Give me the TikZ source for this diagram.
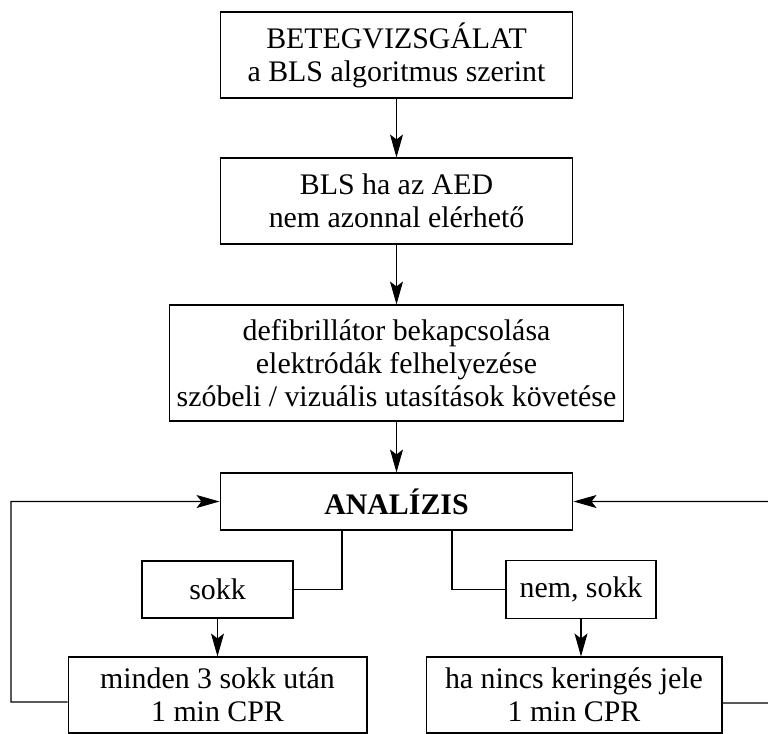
\documentclass[tikz,border=0pt]{standalone}
\usepackage{fontspec}
\setmainfont{Liberation Serif}
\usetikzlibrary{arrows.meta}
\tikzset{
  box/.style={draw, line width=0.6pt, align=center, inner sep=0pt,
    font=\fontsize{17}{18.8}\selectfont},
  arr/.style={line width=0.6pt, -{Stealth[length=4.6mm,width=2.6mm,inset=1mm]}},
  ln/.style={line width=0.6pt}
}
\begin{document}
\begin{tikzpicture}[x=0.02cm, y=-0.02cm]
\useasboundingbox (0,0) rectangle (768,734);
\node[box, minimum width=7.06cm, minimum height=1.72cm] (vizsg) at (396.5, 55)
    {BETEGVIZSGÁLAT\\a BLS algoritmus szerint};
\node[box, minimum width=7.06cm, minimum height=1.72cm] (bls) at (396.5, 201)
    {BLS ha az AED\\nem azonnal elérhető};
\node[box, minimum width=9.1cm, minimum height=2.32cm] (defib) at (396.5, 363)
    {defibrillátor bekapcsolása\\elektródák felhelyezése\\szóbeli / vizuális utasítások követése};
\node[box, minimum width=7.06cm, minimum height=1.14cm] (analizis) at (396.5, 501.5)
    {\textbf{ANALÍZIS}};
\node[box, minimum width=3.02cm, minimum height=1.14cm] (sokk) at (217.5, 589.5)
    {sokk};
\node[box, minimum width=3.0cm, minimum height=1.16cm] (nemsokk) at (581, 589.5)
    {nem, sokk};
\node[box, minimum width=5.98cm, minimum height=1.52cm] (minden) at (217.5, 695)
    {minden 3 sokk után\\1 min CPR};
\node[box, minimum width=5.92cm, minimum height=1.52cm] (nincs) at (574, 695)
    {ha nincs keringés jele\\1 min CPR};

% main chain
\draw[arr] (vizsg) -- (bls);
\draw[arr] (bls) -- (defib);
\draw[arr] (defib) -- (analizis);

% branches
\coordinate (bal) at (342, 530);   % left branch
\coordinate (jobb) at (452, 530);  % right branch
\draw[ln] (bal) |- (sokk.east);
\draw[ln] (jobb) |- (nemsokk.west);
\draw[arr] (sokk) -- (sokk |- minden.north);
\draw[arr] (nemsokk) -- (nemsokk |- nincs.north);

% loops back
\coordinate (lbal) at (11, 702);
\coordinate (ljobb) at (775, 703);
\draw[arr] ([yshift=-0.14cm]minden.west) -- (lbal) |- (analizis.west);
\draw[arr] ([yshift=-0.16cm]nincs.east) -- (ljobb) |- (analizis.east);
\end{tikzpicture}
\end{document}
